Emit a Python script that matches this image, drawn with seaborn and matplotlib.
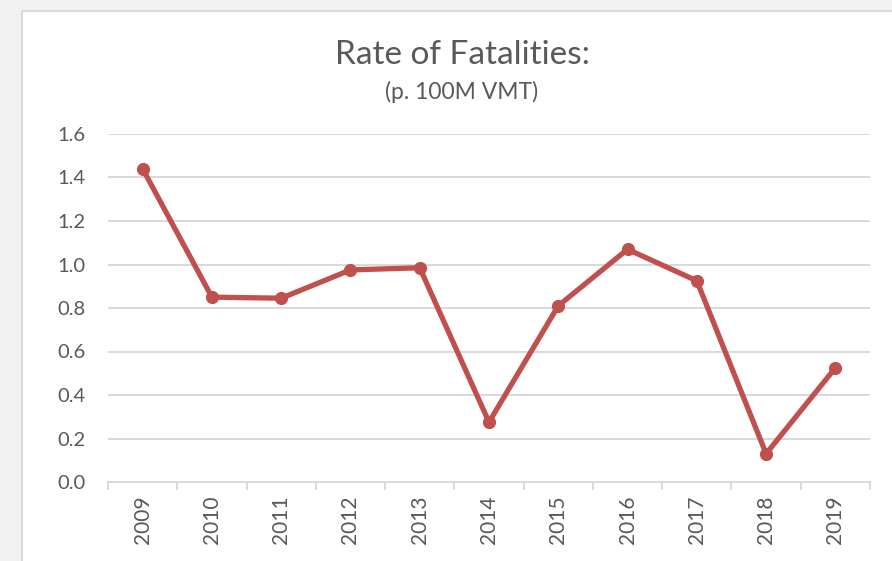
import numpy as np
import pandas as pd
import matplotlib.pyplot as plt
from matplotlib.patches import Rectangle
import seaborn as sns

years = ["2009", "2010", "2011", "2012", "2013", "2014", "2015", "2016", "2017", "2018", "2019"]
rates = [1.44, 0.85, 0.845, 0.975, 0.985, 0.275, 0.81, 1.07, 0.925, 0.13, 0.525]

sns.set_theme(style="white")
plt.rcParams['font.family'] = ['Lato', 'DejaVu Sans']

df = pd.DataFrame({"year": years, "rate": rates})

fig = plt.figure(figsize=(8.92, 5.61), dpi=100, facecolor="#f2f2f2")
# white chart area with thin border
fig.patches.append(Rectangle((22 / 892, -0.01), 1.0, (561 - 11) / 561 + 0.01,
                             transform=fig.transFigure, facecolor="white",
                             edgecolor="#d4d4d4", linewidth=1.2, zorder=-5))

ax = fig.add_axes([108 / 892, 79 / 561, 762 / 892, 348 / 561])
ax.set_zorder(2)
ax.set_facecolor("white")

sns.lineplot(data=df, x="year", y="rate", ax=ax, color="#C0504D", linewidth=3.8,
             marker="o", markersize=9.5, markeredgewidth=0, sort=False)

ax.set_xlim(-0.5, len(years) - 0.5)
ax.set_ylim(0, 1.6)
ax.set_yticks(np.arange(0, 1.61, 0.2))
ax.set_yticklabels([f"{v:.1f}" for v in np.arange(0, 1.61, 0.2)])
ax.yaxis.grid(True, color="#d9d9d9", linewidth=1.4)
ax.set_axisbelow(True)

for s in ["top", "right", "left"]:
    ax.spines[s].set_visible(False)
ax.spines["bottom"].set_color("#d9d9d9")
ax.spines["bottom"].set_linewidth(1.4)

ax.set_xticks(range(len(years)))
ax.set_xticklabels(years, rotation=90)
ax.set_xticks(np.arange(-0.5, len(years), 1.0), minor=True)
ax.tick_params(axis="x", which="major", length=0, pad=10, labelsize=15, labelcolor="#595959")
ax.tick_params(axis="x", which="minor", length=6, width=1.4, color="#d9d9d9", bottom=True)
ax.tick_params(axis="y", length=0, pad=16, labelsize=14.5, labelcolor="#595959")
ax.set_xlabel("")
ax.set_ylabel("")

fig.text(0.518, 1 - 55 / 561, "Rate of Fatalities:", ha="center", va="center",
         fontsize=24, color="#595959")
fig.text(0.518, 1 - 92 / 561, "(p. 100M VMT)", ha="center", va="center",
         fontsize=16.5, color="#595959")

fig.savefig("out.png", dpi=100, facecolor=fig.get_facecolor())
